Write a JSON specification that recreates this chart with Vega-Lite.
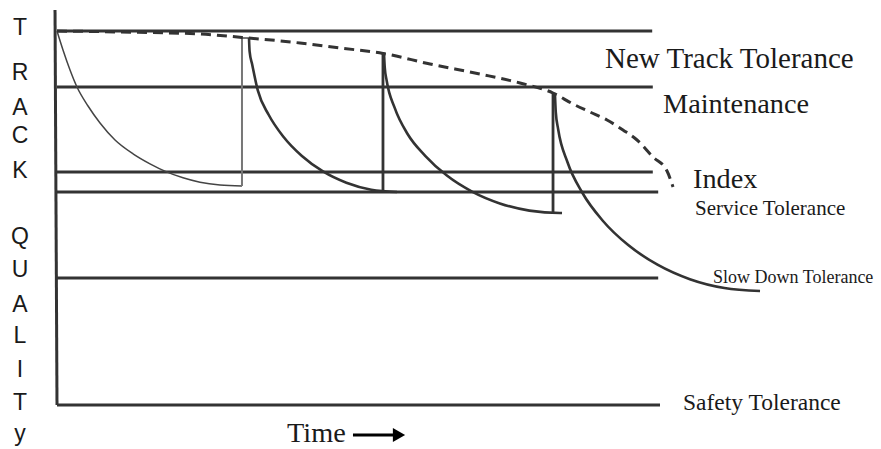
{
  "$schema": "https://vega.github.io/schema/vega-lite/v6.json",
  "width": 600,
  "height": 400,
  "autosize": {"type": "none"},
  "padding": {"left": 57, "top": 5, "right": 224, "bottom": 44},
  "background": "white",
  "config": {"view": {"stroke": null}},
  "datasets": {
    "hlines": [
      {"name": "New Track", "q": 93.5, "t0": 0, "t1": 99.2},
      {"name": "Maintenance", "q": 79.5, "t0": 0, "t1": 99.3},
      {"name": "Index", "q": 58.25, "t0": 0, "t1": 99.3},
      {"name": "Service", "q": 53.25, "t0": 0, "t1": 100.2},
      {"name": "Slow Down", "q": 31.75, "t0": 0, "t1": 100.2},
      {"name": "Safety", "q": 0, "t0": 0, "t1": 100.5}
    ],
    "axisline": [
      {"t": -0.33, "q": 98.75, "t2": 0, "q2": 0}
    ],
    "thin": [
      {"i": 0, "t": 0, "q": 93.5},
      {"i": 1, "t": 1, "q": 88.75},
      {"i": 2, "t": 2.17, "q": 83.75},
      {"i": 3, "t": 3.33, "q": 79.5},
      {"i": 4, "t": 5.17, "q": 74.75},
      {"i": 5, "t": 7.17, "q": 70.5},
      {"i": 6, "t": 9.67, "q": 66.25},
      {"i": 7, "t": 12.67, "q": 62.8},
      {"i": 8, "t": 15.5, "q": 60.3},
      {"i": 9, "t": 18.17, "q": 58.35},
      {"i": 10, "t": 21, "q": 56.8},
      {"i": 11, "t": 23.83, "q": 55.7},
      {"i": 12, "t": 27.17, "q": 55},
      {"i": 13, "t": 30.83, "q": 54.75}
    ],
    "renew1": [
      {"i": 0, "t": 30.83, "q": 54.75},
      {"i": 1, "t": 30.83, "q": 91.75},
      {"i": 2, "t": 32, "q": 91.75}
    ],
    "verticals": [
      {"seg": "v2", "t": 54.33, "q": 53.25, "q2": 88.25},
      {"seg": "v3", "t": 82.67, "q": 48, "q2": 78}
    ],
    "thick": [
      {"seg": "c2", "i": 0, "t": 32, "q": 91.75},
      {"seg": "c2", "i": 1, "t": 32.1, "q": 88.4},
      {"seg": "c2", "i": 2, "t": 32.54, "q": 85.08},
      {"seg": "c2", "i": 3, "t": 33.48, "q": 78.58},
      {"seg": "c2", "i": 4, "t": 35.3, "q": 72.5},
      {"seg": "c2", "i": 5, "t": 37.77, "q": 67},
      {"seg": "c2", "i": 6, "t": 40.82, "q": 62.25},
      {"seg": "c2", "i": 7, "t": 44.33, "q": 58.4},
      {"seg": "c2", "i": 8, "t": 48.23, "q": 55.58},
      {"seg": "c2", "i": 9, "t": 52.38, "q": 53.83},
      {"seg": "c2", "i": 10, "t": 56.67, "q": 53.25},
      {"seg": "c3", "i": 0, "t": 54.5, "q": 88},
      {"seg": "c3", "i": 1, "t": 54.62, "q": 84.5},
      {"seg": "c3", "i": 2, "t": 54.95, "q": 81.05},
      {"seg": "c3", "i": 3, "t": 56.27, "q": 74.33},
      {"seg": "c3", "i": 4, "t": 58.43, "q": 67.75},
      {"seg": "c3", "i": 5, "t": 61.37, "q": 62.3},
      {"seg": "c3", "i": 6, "t": 64.98, "q": 57.35},
      {"seg": "c3", "i": 7, "t": 69.17, "q": 53.35},
      {"seg": "c3", "i": 8, "t": 73.8, "q": 50.4},
      {"seg": "c3", "i": 9, "t": 78.73, "q": 48.6},
      {"seg": "c3", "i": 10, "t": 83.83, "q": 48},
      {"seg": "c3", "i": 11, "t": 84.17, "q": 48},
      {"seg": "c4", "i": 0, "t": 83, "q": 77.5},
      {"seg": "c4", "i": 1, "t": 83.13, "q": 73.22},
      {"seg": "c4", "i": 2, "t": 83.52, "q": 69},
      {"seg": "c4", "i": 3, "t": 85.07, "q": 60.75},
      {"seg": "c4", "i": 4, "t": 87.58, "q": 53},
      {"seg": "c4", "i": 5, "t": 91, "q": 46},
      {"seg": "c4", "i": 6, "t": 95.2, "q": 39.98},
      {"seg": "c4", "i": 7, "t": 100.08, "q": 35.08},
      {"seg": "c4", "i": 8, "t": 105.48, "q": 31.45},
      {"seg": "c4", "i": 9, "t": 111.23, "q": 29.25},
      {"seg": "c4", "i": 10, "t": 117.17, "q": 28.5}
    ],
    "index": [
      {"i": 0, "t": 0, "q": 93.5},
      {"i": 1, "t": 10.5, "q": 93.25},
      {"i": 2, "t": 23.83, "q": 92.75},
      {"i": 3, "t": 30.83, "q": 91.9},
      {"i": 4, "t": 40.5, "q": 90.5},
      {"i": 5, "t": 47.17, "q": 89.25},
      {"i": 6, "t": 54.33, "q": 87.9},
      {"i": 7, "t": 62.17, "q": 85.25},
      {"i": 8, "t": 70.5, "q": 82.75},
      {"i": 9, "t": 77.17, "q": 80.5},
      {"i": 10, "t": 82.67, "q": 78},
      {"i": 11, "t": 86, "q": 75.25},
      {"i": 12, "t": 88.83, "q": 73.25},
      {"i": 13, "t": 91.67, "q": 71.25},
      {"i": 14, "t": 94.33, "q": 68.75},
      {"i": 15, "t": 96.67, "q": 66.25},
      {"i": 16, "t": 99.33, "q": 62},
      {"i": 17, "t": 101.67, "q": 58.5},
      {"i": 18, "t": 102.67, "q": 54.5}
    ],
    "labels": [
      {"text": "New Track Tolerance", "t": 91.33, "q": 84.2, "sz": "xl"},
      {"text": "Maintenance", "t": 101, "q": 72.9, "sz": "l"},
      {"text": "Index", "t": 106, "q": 54.25, "sz": "l"},
      {"text": "Service Tolerance", "t": 106.33, "q": 47.5, "sz": "m"},
      {"text": "Slow Down Tolerance", "t": 109.33, "q": 30.5, "sz": "s"},
      {"text": "Safety Tolerance", "t": 104.33, "q": -1.25, "sz": "m2"},
      {"text": "Time", "t": 38.33, "q": -9.25, "sz": "l"}
    ],
    "letters": [
      {"ch": "T", "q": 92.5},
      {"ch": "R", "q": 81.25},
      {"ch": "A", "q": 72.5},
      {"ch": "C", "q": 65.5},
      {"ch": "K", "q": 56.75},
      {"ch": "Q", "q": 40.25},
      {"ch": "U", "q": 32},
      {"ch": "A", "q": 23.25},
      {"ch": "L", "q": 15.5},
      {"ch": "I", "q": 7},
      {"ch": "T", "q": -1.25},
      {"ch": "y", "q": -8.9}
    ],
    "arrow": [
      {"t0": 49.33, "t1": 56, "q": -7.5}
    ],
    "arrowhead": [
      {"t": 57, "q": -7.5}
    ]
  },
  "layer": [
    {
      "data": {"name": "hlines"},
      "mark": {"type": "rule", "color": "#333", "strokeWidth": 3},
      "encoding": {
        "x": {"field": "t0", "type": "quantitative", "scale": {"domain": [0, 100], "nice": false, "zero": false}, "axis": null},
        "x2": {"field": "t1"},
        "y": {"field": "q", "type": "quantitative", "scale": {"domain": [0, 100], "nice": false, "zero": false}, "axis": null}
      }
    },
    {
      "data": {"name": "axisline"},
      "mark": {"type": "rule", "color": "#333", "strokeWidth": 3},
      "encoding": {
        "x": {"field": "t", "type": "quantitative"},
        "x2": {"field": "t2"},
        "y": {"field": "q", "type": "quantitative"},
        "y2": {"field": "q2"}
      }
    },
    {
      "data": {"name": "thin"},
      "mark": {"type": "line", "color": "#444", "strokeWidth": 1.5, "interpolate": "monotone"},
      "encoding": {
        "x": {"field": "t", "type": "quantitative"},
        "y": {"field": "q", "type": "quantitative"},
        "order": {"field": "i", "type": "quantitative"}
      }
    },
    {
      "data": {"name": "renew1"},
      "mark": {"type": "line", "color": "#777", "strokeWidth": 2},
      "encoding": {
        "x": {"field": "t", "type": "quantitative"},
        "y": {"field": "q", "type": "quantitative"},
        "order": {"field": "i", "type": "quantitative"}
      }
    },
    {
      "data": {"name": "verticals"},
      "mark": {"type": "rule", "color": "#333", "strokeWidth": 2.8},
      "encoding": {
        "x": {"field": "t", "type": "quantitative"},
        "y": {"field": "q", "type": "quantitative"},
        "y2": {"field": "q2"}
      }
    },
    {
      "data": {"name": "thick"},
      "mark": {"type": "line", "color": "#333", "strokeWidth": 2.6, "interpolate": "monotone"},
      "encoding": {
        "x": {"field": "t", "type": "quantitative"},
        "y": {"field": "q", "type": "quantitative"},
        "detail": {"field": "seg", "type": "nominal"},
        "order": {"field": "i", "type": "quantitative"}
      }
    },
    {
      "data": {"name": "index"},
      "mark": {"type": "line", "color": "#333", "strokeWidth": 3, "strokeDash": [10, 6], "interpolate": "monotone"},
      "encoding": {
        "x": {"field": "t", "type": "quantitative"},
        "y": {"field": "q", "type": "quantitative"},
        "order": {"field": "i", "type": "quantitative"}
      }
    },
    {
      "data": {"name": "labels"},
      "transform": [{"filter": "datum.sz == 'xl'"}],
      "mark": {"type": "text", "font": "Liberation Serif", "fontSize": 29, "align": "left", "baseline": "alphabetic", "color": "#1a1a1a"},
      "encoding": {
        "x": {"field": "t", "type": "quantitative"},
        "y": {"field": "q", "type": "quantitative"},
        "text": {"field": "text"}
      }
    },
    {
      "data": {"name": "labels"},
      "transform": [{"filter": "datum.sz == 'l'"}],
      "mark": {"type": "text", "font": "Liberation Serif", "fontSize": 28.3, "align": "left", "baseline": "alphabetic", "color": "#1a1a1a"},
      "encoding": {
        "x": {"field": "t", "type": "quantitative"},
        "y": {"field": "q", "type": "quantitative"},
        "text": {"field": "text"}
      }
    },
    {
      "data": {"name": "labels"},
      "transform": [{"filter": "datum.sz == 'm'"}],
      "mark": {"type": "text", "font": "Liberation Serif", "fontSize": 21, "align": "left", "baseline": "alphabetic", "color": "#1a1a1a"},
      "encoding": {
        "x": {"field": "t", "type": "quantitative"},
        "y": {"field": "q", "type": "quantitative"},
        "text": {"field": "text"}
      }
    },
    {
      "data": {"name": "labels"},
      "transform": [{"filter": "datum.sz == 'm2'"}],
      "mark": {"type": "text", "font": "Liberation Serif", "fontSize": 23.5, "align": "left", "baseline": "alphabetic", "color": "#1a1a1a"},
      "encoding": {
        "x": {"field": "t", "type": "quantitative"},
        "y": {"field": "q", "type": "quantitative"},
        "text": {"field": "text"}
      }
    },
    {
      "data": {"name": "labels"},
      "transform": [{"filter": "datum.sz == 's'"}],
      "mark": {"type": "text", "font": "Liberation Serif", "fontSize": 18, "align": "left", "baseline": "alphabetic", "color": "#1a1a1a"},
      "encoding": {
        "x": {"field": "t", "type": "quantitative"},
        "y": {"field": "q", "type": "quantitative"},
        "text": {"field": "text"}
      }
    },
    {
      "data": {"name": "letters"},
      "mark": {"type": "text", "font": "Liberation Sans", "fontSize": 23, "align": "center", "baseline": "alphabetic", "color": "#1a1a1a", "x": -37},
      "encoding": {
        "y": {"field": "q", "type": "quantitative"},
        "text": {"field": "ch"}
      }
    },
    {
      "data": {"name": "arrow"},
      "mark": {"type": "rule", "color": "black", "strokeWidth": 3},
      "encoding": {
        "x": {"field": "t0", "type": "quantitative"},
        "x2": {"field": "t1"},
        "y": {"field": "q", "type": "quantitative"}
      }
    },
    {
      "data": {"name": "arrowhead"},
      "mark": {"type": "point", "shape": "triangle-right", "filled": true, "color": "black", "opacity": 1, "size": 200},
      "encoding": {
        "x": {"field": "t", "type": "quantitative"},
        "y": {"field": "q", "type": "quantitative"}
      }
    }
  ]
}
